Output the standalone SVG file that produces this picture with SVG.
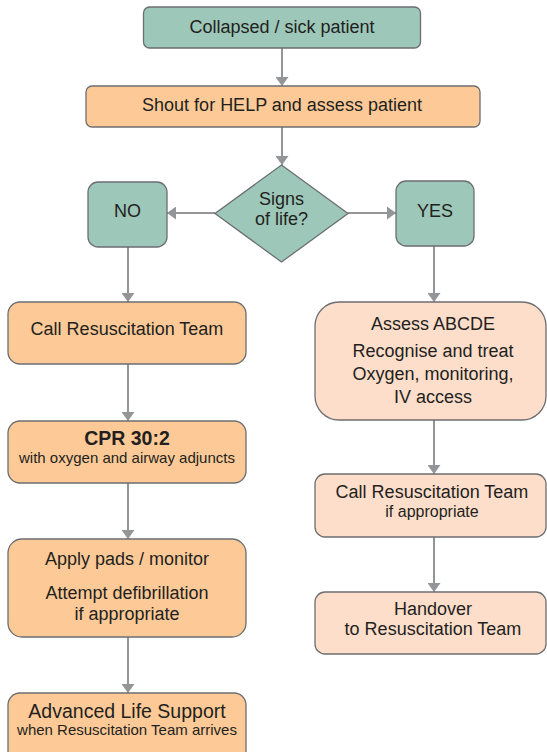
<svg xmlns="http://www.w3.org/2000/svg" width="547" height="752" viewBox="0 0 547 752">
<style>
.t{fill:#9cc7b9;stroke:#6d6e71;stroke-width:1.3}
.o{fill:#fdca97;stroke:#6d6e71;stroke-width:1.3}
.p{fill:#fddecb;stroke:#6d6e71;stroke-width:1.3}
text{font-family:"Liberation Sans",Arial,sans-serif;fill:#231f20;text-anchor:middle;font-size:18px}
.s{font-size:15px}
.m{font-size:16px}
.b{font-weight:bold;font-size:19.5px}
.c line{stroke:#939598;stroke-width:2;marker-end:url(#ah)}
</style>
<defs>
<marker id="ah" viewBox="0 0 9 13" refX="9" refY="6.5" markerWidth="9" markerHeight="13" markerUnits="userSpaceOnUse" orient="auto">
<path d="M0,0 L9,6.5 L0,13 z" fill="#939598"/>
</marker>
</defs>
<rect width="547" height="752" fill="#ffffff"/>
<g class="c" id="connectors">
<line x1="282" y1="48" x2="282" y2="86"/>
<line x1="282" y1="127" x2="282" y2="165"/>
<line x1="215" y1="213" x2="167" y2="213"/>
<line x1="348" y1="213" x2="396" y2="213"/>
<line x1="128" y1="247" x2="128" y2="302"/>
<line x1="434" y1="246" x2="434" y2="302"/>
<line x1="128" y1="364" x2="128" y2="421"/>
<line x1="128" y1="483" x2="128" y2="539"/>
<line x1="128" y1="637" x2="128" y2="693"/>
<line x1="434" y1="420" x2="434" y2="474"/>
<line x1="434" y1="537" x2="434" y2="592"/>
</g>
<g id="n1"><rect class="t" x="143.5" y="7" width="277" height="41" rx="6"/><text x="282" y="33">Collapsed / sick patient</text></g>
<g id="n2"><rect class="o" x="86" y="86" width="394" height="41" rx="6"/><text x="282" y="111">Shout for HELP and assess patient</text></g>
<g id="n3"><polygon class="t" points="281.5,165 348,213.5 281.5,262 215,213.5"/><text x="281.5" y="205">Signs</text><text x="281.5" y="225">of life?</text></g>
<g id="n4"><rect class="t" x="88" y="182" width="79" height="65" rx="10"/><text x="127.5" y="217">NO</text></g>
<g id="n5"><rect class="t" x="396" y="181" width="78" height="65" rx="10"/><text x="435" y="217">YES</text></g>
<g id="n6"><rect class="o" x="8" y="302" width="238" height="62" rx="12"/><text x="127" y="335">Call Resuscitation Team</text></g>
<g id="n7"><rect class="o" x="8" y="421" width="238" height="62" rx="12"/><text class="b" x="127" y="445">CPR 30:2</text><text class="s" x="127" y="463">with oxygen and airway adjuncts</text></g>
<g id="n8"><rect class="o" x="8" y="539" width="238" height="98" rx="14"/><text x="127" y="565">Apply pads / monitor</text><text x="127" y="599">Attempt defibrillation</text><text x="127" y="620">if appropriate</text></g>
<g id="n9"><rect class="o" x="8" y="693" width="238" height="80" rx="12"/><text x="127" y="718" style="font-size:19.5px">Advanced Life Support</text><text class="s" x="127" y="735">when Resuscitation Team arrives</text></g>
<g id="n10"><rect class="p" x="315" y="302" width="231" height="118" rx="24"/><text x="433" y="330">Assess ABCDE</text><text x="433" y="357">Recognise and treat</text><text x="433" y="380">Oxygen, monitoring,</text><text x="433" y="403">IV access</text></g>
<g id="n11"><rect class="p" x="315" y="474" width="231" height="63" rx="10"/><text x="432" y="498">Call Resuscitation Team</text><text class="m" x="432" y="517">if appropriate</text></g>
<g id="n12"><rect class="p" x="315" y="592" width="231" height="62" rx="10"/><text x="433" y="615">Handover</text><text x="433" y="635">to Resuscitation Team</text></g>
</svg>
